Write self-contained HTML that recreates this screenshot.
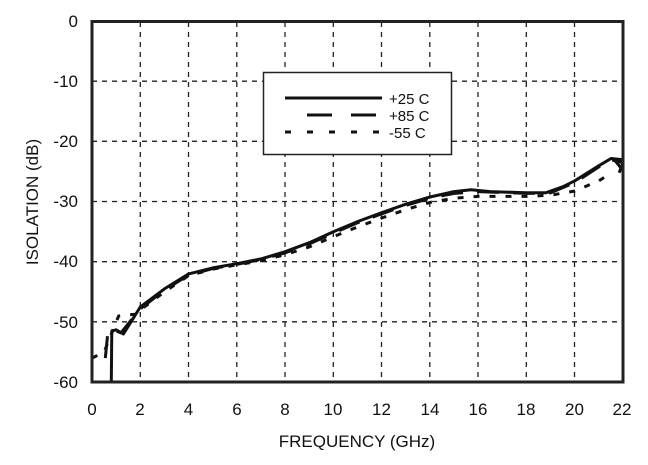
<!DOCTYPE html>
<html><head><style>body{margin:0;background:#fff}svg{display:block}text{font-family:"Liberation Sans",sans-serif;fill:#111}</style></head><body>
<svg width="648" height="465" viewBox="0 0 648 465" xmlns="http://www.w3.org/2000/svg">
<g stroke="#222" stroke-width="1.3" stroke-dasharray="5,5" fill="none">
<path d="M140.3 22V382M188.5 22V382M236.8 22V382M285 22V382M333.3 22V382M381.5 22V382M429.8 22V382M478 22V382M526.3 22V382M574.5 22V382"/>
<path d="M92 81.2H623M92 141.3H623M92 201.5H623M92 261.7H623M92 321.8H623"/>
</g>
<g stroke="#222" stroke-width="1.3" id="ticks"></g>
<rect x="263.5" y="72.5" width="188" height="82" fill="#fff" stroke="#222" stroke-width="1.5"/>
<path d="M285 98H382" stroke="#111" stroke-width="3"/>
<path d="M307 115H376" stroke="#111" stroke-width="3" stroke-dasharray="25,19"/>
<path d="M285 132H380" stroke="#111" stroke-width="3" stroke-dasharray="6,16"/>
<text x="389" y="104" font-size="15">+25 C</text>
<text x="389" y="121" font-size="15">+85 C</text>
<text x="389" y="138" font-size="15">-55 C</text>
<g fill="none" stroke="#111" stroke-linejoin="round">
<polyline id="s3" stroke-width="3" stroke-dasharray="6,10" points=""/>
<polyline id="s2" stroke-width="3" stroke-dasharray="22,14" points=""/>
<polyline id="s1" stroke-width="3" points=""/>
</g>
<rect x="92" y="21.5" width="531" height="360.5" fill="none" stroke="#222" stroke-width="3"/>
<g font-size="17" text-anchor="end">
<text x="78" y="27">0</text><text x="78" y="87">-10</text><text x="78" y="147">-20</text><text x="78" y="207">-30</text><text x="78" y="267">-40</text><text x="78" y="328">-50</text><text x="78" y="388">-60</text>
</g>
<g font-size="17" text-anchor="middle">
<text x="92" y="415">0</text><text x="140" y="415">2</text><text x="188.5" y="415">4</text><text x="237" y="415">6</text><text x="285" y="415">8</text><text x="333" y="415">10</text><text x="381.5" y="415">12</text><text x="430" y="415">14</text><text x="478" y="415">16</text><text x="526" y="415">18</text><text x="574.5" y="415">20</text><text x="622" y="415">22</text>
</g>
<text x="357" y="447" font-size="17" text-anchor="middle">FREQUENCY (GHz)</text>
<text transform="translate(38 202) rotate(-90)" font-size="17" text-anchor="middle">ISOLATION (dB)</text>
<script>
function X(f){return 92+f*24.14}function Y(d){return 21.5-d*6.01}
function P(a){return a.map(p=>X(p[0]).toFixed(1)+","+Y(p[1]).toFixed(1)).join(" ")}
var s1=[[0.8,-60],[0.82,-51.5],[1.0,-51.3],[1.3,-52],[2,-47.5],[3,-44.5],[4,-42],[5,-41],[6,-40.3],[7,-39.5],[8,-38.3],[9,-36.8],[10,-35],[11,-33.3],[12,-31.8],[13,-30.4],[14,-29.2],[15,-28.3],[15.7,-28],[16.5,-28.3],[18,-28.5],[18.8,-28.5],[19.5,-27.5],[20,-26.5],[21,-24],[21.5,-22.8],[22,-23],[21.7,-23.3],[22,-24.8]];
var s2=[[0.55,-56],[0.65,-52],[0.8,-51.2],[1.2,-51.8],[2,-47.8],[3,-44.7],[4,-42.2],[5,-41.1],[6,-40.4],[7,-39.6],[8,-38.5],[9,-37],[10,-35.2],[11,-33.5],[12,-32],[13,-30.6],[14,-29.4],[15,-28.6],[16,-28.3],[18,-28.6],[19,-28.5],[20,-26.8],[21,-24.2],[21.5,-23],[22,-23.5],[21.8,-25.5]];
var s3=[[0,-56],[0.5,-55],[1.1,-49],[1.8,-48.7],[2,-48],[3,-45],[4,-42.3],[5,-41.2],[6,-40.5],[7,-39.8],[8,-38.8],[9,-37.5],[10,-35.8],[11,-34.2],[12,-32.7],[13,-31.3],[14,-30.1],[15,-29.4],[16,-29.1],[18,-29.1],[19,-28.9],[20,-28.2],[21,-26.5],[21.5,-25.2]];
document.getElementById("s1").setAttribute("points",P(s1));
document.getElementById("s2").setAttribute("points",P(s2));
document.getElementById("s3").setAttribute("points",P(s3));
var t="";for(var i=1;i<30;i++){var y=Y(-2*i);t+="M92 "+y+"h5M623 "+y+"h-5"}
for(var i=1;i<22;i++){var x=X(i);t+="M"+x+" 382v-5M"+x+" 21.5v5"}
document.getElementById("ticks").innerHTML='<path d="'+t+'"/>';
</script>
</svg>
</body></html>
